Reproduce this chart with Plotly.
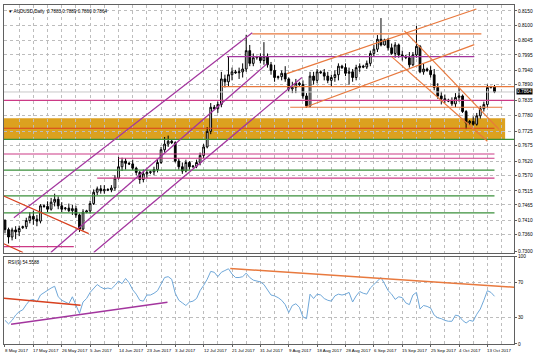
import plotly.graph_objects as go
from plotly.subplots import make_subplots

# ---------------- data ----------------
opens = [0.7410, 0.7378, 0.7352, 0.7377, 0.7370, 0.7385, 0.7388, 0.7410, 0.7425, 0.7415,
         0.7408, 0.7462, 0.7460, 0.7450, 0.7475, 0.7485, 0.7462, 0.7452, 0.7454, 0.7445,
         0.7452, 0.7430, 0.7380, 0.7440, 0.7444, 0.7470, 0.7510, 0.7522, 0.7515, 0.7520,
         0.7518, 0.7525, 0.7560, 0.7600, 0.7620, 0.7612, 0.7610, 0.7595, 0.7580, 0.7555,
         0.7575, 0.7580, 0.7582, 0.7590, 0.7615, 0.7660, 0.7680, 0.7690, 0.7685, 0.7620,
         0.7600, 0.7585, 0.7615, 0.7600, 0.7602, 0.7615, 0.7640, 0.7670, 0.7725, 0.7810,
         0.7805, 0.7820, 0.7910, 0.7900, 0.7925, 0.7935, 0.7932, 0.7935, 0.7945, 0.8010,
         0.7965, 0.7985, 0.7988, 0.7975, 0.7990, 0.7960, 0.7940, 0.7915, 0.7918, 0.7930,
         0.7910, 0.7875, 0.7880, 0.7895, 0.7890, 0.7850, 0.7815, 0.7920, 0.7905, 0.7935,
         0.7932, 0.7920, 0.7905, 0.7915, 0.7925, 0.7955, 0.7950, 0.7930, 0.7935, 0.7915,
         0.7950, 0.7955, 0.7952, 0.7965, 0.8000, 0.8015, 0.8050, 0.8030, 0.8048, 0.8020,
         0.8000, 0.8030, 0.7995, 0.7990, 0.7985, 0.7960, 0.7995, 0.8025, 0.7935, 0.7945,
         0.7940, 0.7925, 0.7880, 0.7850, 0.7840, 0.7835, 0.7832, 0.7822, 0.7845, 0.7850,
         0.7795, 0.7755, 0.7760, 0.7750, 0.7780, 0.7805, 0.7820, 0.7880, 0.7883]
highs = [0.7415, 0.7385, 0.7385, 0.7390, 0.7392, 0.7392, 0.7420, 0.7440, 0.7445, 0.7430,
         0.7468, 0.7468, 0.7478, 0.7490, 0.7505, 0.7495, 0.7475, 0.7458, 0.7470, 0.7465,
         0.7462, 0.7435, 0.7450, 0.7448, 0.7480, 0.7520, 0.7530, 0.7535, 0.7535, 0.7524,
         0.7535, 0.7570, 0.7635, 0.7632, 0.7630, 0.7618, 0.7625, 0.7600, 0.7585, 0.7590,
         0.7590, 0.7586, 0.7600, 0.7625, 0.7670, 0.7705, 0.7710, 0.7695, 0.7690, 0.7630,
         0.7615, 0.7625, 0.7620, 0.7606, 0.7625, 0.7650, 0.7680, 0.7740, 0.7825, 0.7818,
         0.7830, 0.7935, 0.7925, 0.7990, 0.7950, 0.7942, 0.7950, 0.7965, 0.8066, 0.8030,
         0.8000, 0.7992, 0.8000, 0.8040, 0.8000, 0.7970, 0.7960, 0.7922, 0.7940, 0.7955,
         0.7915, 0.7900, 0.7910, 0.7900, 0.7905, 0.7860, 0.7935, 0.7935, 0.7945, 0.7940,
         0.7945, 0.7935, 0.7925, 0.7940, 0.7965, 0.7960, 0.7965, 0.7950, 0.7945, 0.7960,
         0.7965, 0.7960, 0.7975, 0.8010, 0.8030, 0.8065, 0.8125, 0.8052, 0.8055, 0.8035,
         0.8040, 0.8035, 0.8010, 0.7995, 0.8005, 0.8005, 0.8097, 0.8030, 0.7965, 0.7950,
         0.7955, 0.7945, 0.7895, 0.7865, 0.7855, 0.7840, 0.7845, 0.7860, 0.7880, 0.7855,
         0.7800, 0.7765, 0.7778, 0.7790, 0.7815, 0.7830, 0.7890, 0.7886, 0.7889]
lows = [0.7365, 0.7329, 0.7340, 0.7345, 0.7355, 0.7380, 0.7380, 0.7400, 0.7395, 0.7390,
        0.7400, 0.7455, 0.7440, 0.7445, 0.7460, 0.7450, 0.7440, 0.7446, 0.7440, 0.7430,
        0.7420, 0.7370, 0.7375, 0.7436, 0.7435, 0.7465, 0.7500, 0.7505, 0.7505, 0.7514,
        0.7510, 0.7515, 0.7555, 0.7585, 0.7590, 0.7606, 0.7588, 0.7570, 0.7540, 0.7545,
        0.7560, 0.7574, 0.7570, 0.7580, 0.7610, 0.7650, 0.7670, 0.7680, 0.7615, 0.7590,
        0.7575, 0.7580, 0.7590, 0.7596, 0.7595, 0.7605, 0.7630, 0.7665, 0.7715, 0.7800,
        0.7790, 0.7810, 0.7880, 0.7885, 0.7905, 0.7928, 0.7910, 0.7915, 0.7935, 0.7955,
        0.7955, 0.7978, 0.7965, 0.7960, 0.7950, 0.7925, 0.7900, 0.7908, 0.7905, 0.7900,
        0.7865, 0.7860, 0.7860, 0.7885, 0.7840, 0.7808, 0.7810, 0.7890, 0.7895, 0.7928,
        0.7905, 0.7895, 0.7885, 0.7900, 0.7905, 0.7945, 0.7920, 0.7890, 0.7900, 0.7905,
        0.7935, 0.7948, 0.7945, 0.7955, 0.7990, 0.8005, 0.8025, 0.8028, 0.8010, 0.7995,
        0.7985, 0.7985, 0.7975, 0.7980, 0.7950, 0.7955, 0.7985, 0.7930, 0.7925, 0.7935,
        0.7915, 0.7870, 0.7840, 0.7820, 0.7825, 0.7828, 0.7815, 0.7810, 0.7830, 0.7790,
        0.7733, 0.7748, 0.7745, 0.7745, 0.7770, 0.7795, 0.7810, 0.7876, 0.7860]
closes = [0.7378, 0.7352, 0.7377, 0.7370, 0.7382, 0.7388, 0.7410, 0.7425, 0.7415, 0.7408,
          0.7462, 0.7460, 0.7450, 0.7475, 0.7485, 0.7462, 0.7450, 0.7454, 0.7445, 0.7452,
          0.7430, 0.7380, 0.7440, 0.7444, 0.7470, 0.7510, 0.7522, 0.7515, 0.7520, 0.7518,
          0.7525, 0.7560, 0.7600, 0.7620, 0.7612, 0.7610, 0.7595, 0.7580, 0.7555, 0.7575,
          0.7580, 0.7582, 0.7590, 0.7615, 0.7660, 0.7680, 0.7690, 0.7685, 0.7620, 0.7600,
          0.7585, 0.7615, 0.7600, 0.7602, 0.7615, 0.7640, 0.7670, 0.7725, 0.7810, 0.7805,
          0.7820, 0.7910, 0.7900, 0.7925, 0.7935, 0.7932, 0.7935, 0.7945, 0.8010, 0.7965,
          0.7985, 0.7988, 0.7975, 0.7990, 0.7960, 0.7940, 0.7915, 0.7918, 0.7930, 0.7910,
          0.7875, 0.7880, 0.7895, 0.7890, 0.7850, 0.7815, 0.7920, 0.7905, 0.7935, 0.7932,
          0.7920, 0.7905, 0.7915, 0.7925, 0.7955, 0.7950, 0.7930, 0.7935, 0.7915, 0.7950,
          0.7955, 0.7952, 0.7965, 0.8000, 0.8015, 0.8050, 0.8030, 0.8048, 0.8020, 0.8000,
          0.8030, 0.7995, 0.7990, 0.7985, 0.7960, 0.7995, 0.8025, 0.7935, 0.7945, 0.7940,
          0.7925, 0.7880, 0.7850, 0.7840, 0.7835, 0.7832, 0.7822, 0.7845, 0.7850, 0.7795,
          0.7755, 0.7760, 0.7750, 0.7780, 0.7805, 0.7820, 0.7880, 0.7883, 0.7864]
rsi_values = [27, 23, 27, 33, 37, 39, 45, 50, 51, 48,
              56, 59, 61, 64, 66, 54, 50, 48, 46, 54,
              45, 35, 48, 52, 59, 64, 68, 65, 63, 64,
              63, 67, 72, 69, 75, 70, 62, 57, 50, 49,
              56, 56, 58, 61, 68, 76, 77, 74, 58, 50,
              47, 44, 48, 49, 52, 61, 67, 74, 83, 82,
              77, 82, 84, 86, 80, 76, 76, 77, 81, 76,
              73, 72, 71, 68, 62, 56, 55, 53, 50, 45,
              36, 44, 46, 42, 31, 29, 57, 52, 57, 56,
              52, 50, 49, 55, 57, 56, 57, 59, 48, 55,
              60, 58, 57, 64, 68, 72, 76, 69, 61, 57,
              51, 54, 53, 47, 45, 56, 59, 40, 44, 43,
              41, 33, 30, 29, 27, 26, 26, 33, 32, 27,
              24, 27, 26, 34, 40, 50, 61, 59, 54.5588]

tick_bars = [0, 8, 16, 24, 32, 40, 48, 56, 64, 72, 80, 88, 96, 104, 112, 120, 128, 136]
tick_dates = ["8 May 2017", "17 May 2017", "26 May 2017", "5 Jun 2017", "14 Jun 2017",
              "23 Jun 2017", "3 Jul 2017", "12 Jul 2017", "21 Jul 2017", "31 Jul 2017",
              "9 Aug 2017", "18 Aug 2017", "28 Aug 2017", "6 Sep 2017", "15 Sep 2017",
              "25 Sep 2017", "4 Oct 2017", "13 Oct 2017"]
price_ticks = [0.8150, 0.8100, 0.8045, 0.7995, 0.7940, 0.7890, 0.7835, 0.7780, 0.7725,
               0.7675, 0.7620, 0.7570, 0.7515, 0.7465, 0.7410, 0.7360, 0.7300]
rsi_ticks = [0, 30, 70, 100]

# horizontal levels: price, first bar, last bar
level_price = [0.8069, 0.7989, 0.7883, 0.7834, 0.7810, 0.7736, 0.7697, 0.7645,
               0.7630, 0.7588, 0.7560, 0.7497, 0.7437, 0.7318]
level_from = [69.7, 62.6, 61.0, -0.3, 80.4, -0.3, -0.3, -0.3, 32.0, -0.3, 26.0, -0.3, -0.3, -0.3]
level_to = [134.3, 132.3, 143.5, 143.5, 140.2, 138.0, 143.5, 138.0, 138.0, 138.0, 138.0, 138.0, 138.0, 19.4]
level_kind = ["orange", "purple", "orange", "pink", "orange", "red", "green", "pink",
              "pink", "green", "pink", "green", "green", "pink"]

zone_low, zone_high = 0.7697, 0.7771
zone_from, zone_to = -0.3, 141.0

# trend lines: bar0, price0, bar1, price1
trend_b0 = [2.5, 12.9, 25.0, -1.1, -1.1, 79.5, 84.6, 112.6, 109.0]
trend_p0 = [0.7420, 0.7297, 0.7297, 0.7501, 0.7332, 0.7929, 0.7810, 0.8080, 0.7989]
trend_b1 = [69.7, 73.9, 83.7, 23.6, 5.1, 132.9, 132.3, 139.3, 136.0]
trend_p1 = [0.8073, 0.7964, 0.7915, 0.7364, 0.7297, 0.8157, 0.8031, 0.7732, 0.7690]
trend_kind = ["purple", "purple", "purple", "red", "red", "orange", "orange", "orange", "orange"]

# RSI trend lines: bar0, value0, bar1, value1
rsi_b0 = [-0.3, 1.7, 63.5]
rsi_v0 = [52.3, 22.7, 86.4]
rsi_b1 = [21.3, 45.8, 143.8]
rsi_v1 = [44.3, 47.7, 64.8]
rsi_kind = ["red", "purple", "orange"]

# ---------------- styles ----------------
COL = {"orange": "#E8793E", "purple": "#A3359E", "pink": "#CC3A86",
       "green": "#3A8F3A", "red": "#D8401E"}
FONT = "Liberation Sans, Arial, sans-serif"
GRID = "#BDBDBD"
FRAME = "#606060"

bars = list(range(len(opens)))

fig = make_subplots(rows=2, cols=1, shared_xaxes=True)

fig.add_trace(go.Candlestick(
    x=bars, open=opens, high=highs, low=lows, close=closes,
    increasing=dict(line=dict(color="black", width=1), fillcolor="white"),
    decreasing=dict(line=dict(color="black", width=1), fillcolor="black"),
    whiskerwidth=0, hoverinfo="skip", showlegend=False), row=1, col=1)

fig.add_trace(go.Scatter(
    x=bars, y=rsi_values, mode="lines", line=dict(color="#6FA7D8", width=1),
    hoverinfo="skip", showlegend=False), row=2, col=1)

shapes = []
shapes.append(dict(type="rect", xref="x", yref="y", x0=zone_from, x1=zone_to,
                   y0=zone_low, y1=zone_high, fillcolor="#DCA11F", line=dict(width=0),
                   layer="below"))
# bid line
shapes.append(dict(type="line", xref="x", yref="y", x0=-0.3, x1=143.5,
                   y0=closes[-1], y1=closes[-1], line=dict(color="#C8C8C8", width=1)))
for p, a, b, k in zip(level_price, level_from, level_to, level_kind):
    shapes.append(dict(type="line", xref="x", yref="y", x0=a, x1=b, y0=p, y1=p,
                       line=dict(color=COL[k], width=1.2)))
for a, pa, b, pb, k in zip(trend_b0, trend_p0, trend_b1, trend_p1, trend_kind):
    shapes.append(dict(type="line", xref="x", yref="y", x0=a, x1=b, y0=pa, y1=pb,
                       line=dict(color=COL[k], width=1.2)))
for a, va, b, vb, k in zip(rsi_b0, rsi_v0, rsi_b1, rsi_v1, rsi_kind):
    shapes.append(dict(type="line", xref="x2", yref="y2", x0=a, x1=b, y0=va, y1=vb,
                       line=dict(color=COL[k], width=1.5)))

annotations = []
for b, t in zip(tick_bars, tick_dates):
    annotations.append(dict(x=b, y=0, xref="x2", yref="paper", text=t, showarrow=False,
                            xanchor="left", yanchor="top", xshift=-2, yshift=-2,
                            font=dict(size=4.4, color="black", family=FONT)))
annotations.append(dict(x=0.004, y=1, xref="paper", yref="paper",
                        text="▼ AUDUSD,Daily  %.4f %.4f %.4f %.4f" % (opens[-1], highs[-1], lows[-1], closes[-1]),
                        showarrow=False, xanchor="left", yanchor="top", yshift=-2,
                        font=dict(size=4.6, color="black", family=FONT)))
annotations.append(dict(x=0.004, y=0.258, xref="paper", yref="paper",
                        text="RSI(9) %.4f" % rsi_values[-1],
                        showarrow=False, xanchor="left", yanchor="top", yshift=-1,
                        font=dict(size=4.6, color="black", family=FONT)))
annotations.append(dict(x=1, y=closes[-1], xref="paper", yref="y",
                        text="%.4f" % closes[-1], showarrow=False, xanchor="left",
                        xshift=2, bgcolor="black", borderpad=0,
                        font=dict(size=4.8, color="white", family=FONT)))

axis_common = dict(showline=True, linecolor=FRAME, linewidth=1, mirror=True,
                   zeroline=False)

fig.update_layout(
    width=536, height=358,
    margin=dict(l=3, r=21, t=3, b=14),
    paper_bgcolor="white", plot_bgcolor="white",
    showlegend=False,
    shapes=shapes, annotations=annotations,
    xaxis=dict(domain=[0, 1], range=[-0.28, 143.5], tickvals=tick_bars, showticklabels=False,
               showgrid=True, gridcolor=GRID, griddash="dot", gridwidth=1,
               minor=dict(dtick=4, tick0=0, showgrid=True, gridcolor=GRID, griddash="dot"),
               rangeslider=dict(visible=False), anchor="y", **axis_common),
    yaxis=dict(domain=[0.2698, 1], range=[0.72971, 0.81711], side="right",
               tickvals=price_ticks, ticktext=["%.4f" % v for v in price_ticks],
               ticks="outside", ticklen=2, tickcolor=FRAME,
               showgrid=True, gridcolor=GRID, griddash="dot",
               tickfont=dict(size=4.8, color="black", family=FONT), anchor="x", **axis_common),
    xaxis2=dict(domain=[0, 1], range=[-0.28, 143.5], tickvals=tick_bars, showticklabels=False,
                ticks="outside", ticklen=2, tickcolor=FRAME,
                showgrid=True, gridcolor=GRID, griddash="dot",
                minor=dict(dtick=4, tick0=0, showgrid=True, gridcolor=GRID, griddash="dot"),
                rangeslider=dict(visible=False), anchor="y2", matches="x", **axis_common),
    yaxis2=dict(domain=[0, 0.258], range=[0, 100], side="right",
                tickvals=rsi_ticks, ticktext=[str(v) for v in rsi_ticks],
                ticks="outside", ticklen=2, tickcolor=FRAME,
                showgrid=True, gridcolor=GRID, griddash="dot",
                tickfont=dict(size=4.8, color="black", family=FONT), anchor="x2", **axis_common),
)

fig.write_html("out.html")
